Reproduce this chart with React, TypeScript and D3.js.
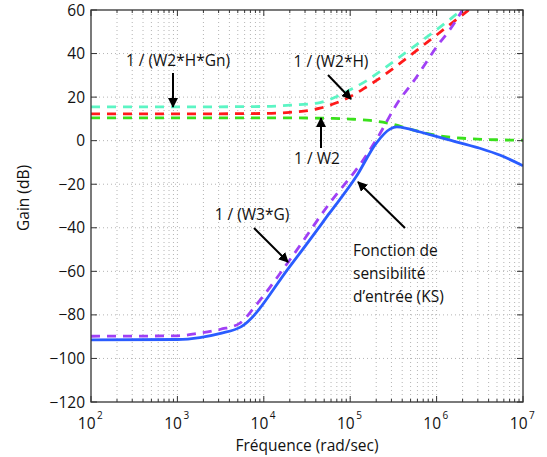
import React from "react";
import * as d3 from "d3";

// ---- data (log10 of frequency, gain in dB) ----
const w2hgnLogF = [2, 3, 4, 4.3, 4.65, 4.84, 5.0, 5.2, 5.34, 5.5, 5.8, 6.1, 6.29];
const w2hgnGain = [15.5, 15.5, 15.7, 16.3, 17.5, 20.2, 23.4, 27.8, 31.6, 36.3, 45, 54, 60];

const w2hLogF = [2, 3, 4, 4.3, 4.65, 4.85, 5.0, 5.2, 5.34, 5.5, 5.8, 6.1, 6.37];
const w2hGain = [12.3, 12.3, 12.5, 13.0, 14.9, 17.5, 20.2, 25, 28.6, 33.2, 42.4, 51.6, 60];

const w2LogF = [2, 3, 4, 4.5, 4.8, 5.0, 5.23, 5.42, 5.72, 6.03, 6.34, 6.7, 7];
const w2Gain = [10.5, 10.5, 10.5, 10.4, 10.2, 9.9, 9.3, 8.2, 5.0, 2.2, 1.0, 0.4, 0.2];

const w3gLogF = [2, 3, 3.22, 3.5, 3.72, 3.9, 4.3, 4.76, 5.15, 5.3, 5.57, 5.73, 6.03, 6.15, 6.3];
const w3gGain = [-89.8, -89.6, -88.6, -86.6, -83.9, -76, -54.8, -28.8, -8.9, 0.3, 18.7, 27.1, 44.7, 50.8, 60];

const ksLogF = [2, 3, 3.26, 3.5, 3.74, 4.3, 4.76, 5.07, 5.3, 5.46, 5.54, 5.65, 5.8, 6.11, 6.5, 6.73, 7];
const ksGain = [-91.5, -91.3, -90.4, -88.5, -85.4, -57.8, -33.3, -16.5, -1.2, 5.3, 6.3, 5.7, 4.1, 0.7, -3.5, -6.6, -11.5];

const yTicks = [60, 40, 20, 0, -20, -40, -60, -80, -100, -120];
const xDecades = [2, 3, 4, 5, 6, 7];

const annotations = [
  { text: "1 / (W2*H*Gn)", x: 178, y: 66, ax: [173, 73, 173, 107] },
  { text: "1 / (W2*H)", x: 331, y: 67, ax: [328, 75, 351, 99] },
  { text: "1 / W2", x: 317, y: 164, ax: [321, 148, 321, 118] },
  { text: "1 / (W3*G)", x: 252, y: 220, ax: [254, 228, 288, 262] },
];
const ksLines = ["Fonction de", "sensibilité", "d\u2019entrée (KS)"];

export default function App() {
  const W = 547, H = 457;
  const L = 91, R = 523, T = 10, B = 402;
  const x = d3.scaleLog().domain([1e2, 1e7]).range([L, R]);
  const y = d3.scaleLinear().domain([-120, 60]).range([B, T]);
  const font = "'Open Sans', 'DejaVu Sans', sans-serif";
  const fs = 15.5;

  const mk = (lf: number[], g: number[]) =>
    d3
      .line<number>()
      .x((_, i) => x(Math.pow(10, lf[i])))
      .y((_, i) => y(g[i]))
      .curve(d3.curveMonotoneX)(g) || "";

  const minor: number[] = [];
  for (let d = 2; d < 7; d++) for (let k = 2; k <= 9; k++) minor.push(k * Math.pow(10, d));
  const majors = xDecades.map((d) => Math.pow(10, d));

  const grid = "#b4b4b4";
  const axisCol = "#333";

  return (
    <svg width={W} height={H} style={{ display: "block", position: "absolute", left: 0, top: 0, background: "#fff" }}>
      <defs>
        <clipPath id="plot">
          <rect x={L} y={T} width={R - L} height={B - T} />
        </clipPath>
        <marker id="ah" viewBox="0 0 10 10" refX="9" refY="5" markerWidth="5" markerHeight="5" orient="auto" markerUnits="strokeWidth">
          <path d="M0,0 L10,5 L0,10 z" fill="#000" />
        </marker>
      </defs>
      <rect x={0} y={0} width={W} height={H} fill="#fff" />
      {/* grid */}
      <g stroke={grid} strokeWidth={1} strokeDasharray="1,3">
        {[...minor, ...majors.slice(1, -1)].map((f, i) => (
          <line key={"gx" + i} x1={x(f)} x2={x(f)} y1={T} y2={B} />
        ))}
        {yTicks.slice(1, -1).map((t) => (
          <line key={"gy" + t} x1={L} x2={R} y1={y(t)} y2={y(t)} />
        ))}
      </g>
      {/* curves */}
      <g clipPath="url(#plot)" fill="none" strokeWidth={2.8}>
        <path d={mk(w2hgnLogF, w2hgnGain)} stroke="#5cf5c4" strokeDasharray="9,7" />
        <path d={mk(w2hLogF, w2hGain)} stroke="#ff1a1a" strokeDasharray="9,7" />
        <path d={mk(w2LogF, w2Gain)} stroke="#3ae01c" strokeDasharray="9,7" />
        <path d={mk(w3gLogF, w3gGain)} stroke="#a040f5" strokeDasharray="9,7" />
        <path d={mk(ksLogF, ksGain)} stroke="#2a5cff" />
      </g>
      {/* axes box and ticks */}
      <rect x={L} y={T} width={R - L} height={B - T} fill="none" stroke={axisCol} strokeWidth={1.3} />
      <g stroke={axisCol} strokeWidth={1}>
        {majors.map((f, i) => (
          <g key={"mt" + i}>
            <line x1={x(f)} x2={x(f)} y1={B} y2={B - 6} />
            <line x1={x(f)} x2={x(f)} y1={T} y2={T + 6} />
          </g>
        ))}
        {minor.map((f, i) => (
          <g key={"mn" + i}>
            <line x1={x(f)} x2={x(f)} y1={B} y2={B - 3} />
            <line x1={x(f)} x2={x(f)} y1={T} y2={T + 3} />
          </g>
        ))}
        {yTicks.map((t) => (
          <g key={"yt" + t}>
            <line x1={L} x2={L + 6} y1={y(t)} y2={y(t)} />
            <line x1={R} x2={R - 6} y1={y(t)} y2={y(t)} />
          </g>
        ))}
      </g>
      {/* tick labels */}
      <g fontFamily={font} fontSize={fs} fill="#111">
        {yTicks.map((t) => (
          <text key={"yl" + t} x={85} y={y(t) + 5.5} textAnchor="end">
            {t < 0 ? "\u2212" + Math.abs(t) : String(t)}
          </text>
        ))}
        {xDecades.map((d) => (
          <g key={"xl" + d}>
            <text x={x(Math.pow(10, d)) + 4.5} y={429} textAnchor="end">10</text>
            <text x={x(Math.pow(10, d)) + 6} y={419} fontSize={10}>{d}</text>
          </g>
        ))}
        <text x={307} y={451} textAnchor="middle">Fréquence (rad/sec)</text>
        <text transform="translate(29,198) rotate(-90)" textAnchor="middle">Gain (dB)</text>
      </g>
      {/* annotations */}
      <g fontFamily={font} fontSize={fs} fill="#111">
        {annotations.map((a, i) => (
          <g key={"an" + i}>
            <text x={a.x} y={a.y} textAnchor="middle">{a.text}</text>
            <line x1={a.ax[0]} y1={a.ax[1]} x2={a.ax[2]} y2={a.ax[3]} stroke="#000" strokeWidth={2} markerEnd="url(#ah)" />
          </g>
        ))}
        {ksLines.map((s, i) => (
          <text key={"ks" + i} x={353} y={256 + i * 23}>{s}</text>
        ))}
        <line x1={405} y1={228} x2={358} y2={182} stroke="#000" strokeWidth={2} markerEnd="url(#ah)" />
      </g>
    </svg>
  );
}
